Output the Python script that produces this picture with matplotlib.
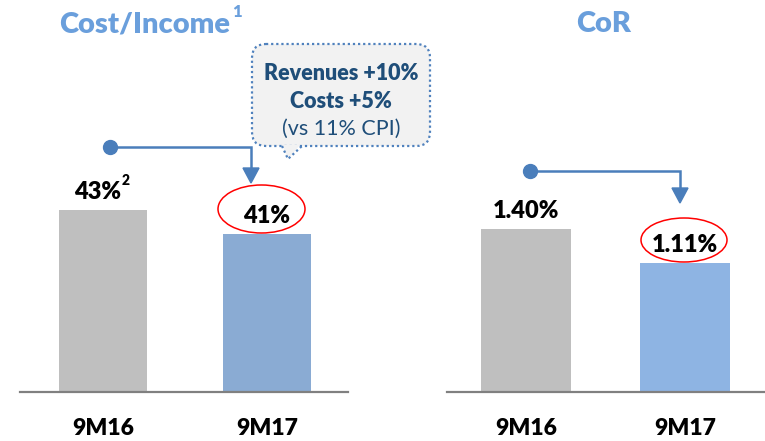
import matplotlib
matplotlib.use("Agg")
import matplotlib.pyplot as plt
from matplotlib.patches import FancyBboxPatch, Ellipse, Polygon

plt.rcParams['font.family'] = ['Lato', 'DejaVu Sans']

# данные
periods = ["9M16", "9M17"]
cost_income = [43, 41]
cost_income_labels = ["43%", "41%"]
cost_income_notes = ["2", ""]
cor = [1.40, 1.11]
cor_labels = ["1.40%", "1.11%"]
cor_notes = ["", ""]

grey = "#bfbfbf"
blue_left = "#8aabd3"
blue_right = "#8eb4e3"
title_col = "#6a9fdc"
conn_col = "#4a7ebb"
HEAVY = "heavy"

W, H = 765, 441
fig = plt.figure(figsize=(W / 100, H / 100), dpi=100)


def px_axes(x0, x1, ybot):
    return fig.add_axes([x0 / W, (H - ybot) / H, (x1 - x0) / W, ybot / H])


def bar_panel(ax, values, labels, notes, colors, xlim, ylim, width):
    x = range(len(values))
    ax.bar(x, values, width=width, color=colors, zorder=2)
    ax.set_xlim(*xlim)
    ax.set_ylim(*ylim)
    for s in ["top", "right", "left"]:
        ax.spines[s].set_visible(False)
    ax.spines["bottom"].set_color("#808080")
    ax.spines["bottom"].set_linewidth(1.6)
    ax.set_yticks([])
    ax.set_xticks([])
    ax.patch.set_alpha(0)
    for i, (v, lab, note) in enumerate(zip(values, labels, notes)):
        dx = -4 if note else 0
        ax.annotate(lab, (i, v), xytext=(dx, 13), textcoords="offset points",
                    ha="center", va="center", fontsize=17, fontweight=HEAVY,
                    color="black")
        if note:
            ax.annotate(note, (i, v), xytext=(dx + 17.5, 21), textcoords="offset points",
                        ha="left", va="center", fontsize=10, fontweight=HEAVY)
        ax.text(i, -0.092, periods[i], transform=ax.get_xaxis_transform(),
                ha="center", va="center", fontsize=16.5, fontweight=HEAVY)


# левая панель
ax1 = px_axes(20, 348, 392)
bar_panel(ax1, cost_income, cost_income_labels, cost_income_notes,
          [grey, blue_left], (-0.506, 1.494), (27.8, 60.5), 0.537)

# правая панель
ax2 = px_axes(447, 764, 392)
bar_panel(ax2, cor, cor_labels, cor_notes, [grey, blue_right],
          (-0.497, 1.497), (0, 3.37), 0.57)

# оверлей в пикселях
ov = fig.add_axes([0, 0, 1, 1])
ov.set_xlim(0, W)
ov.set_ylim(H, 0)
ov.axis("off")
ov.patch.set_alpha(0)

ov.text(145, 24, "Cost/Income", ha="center", va="center", fontsize=21,
        fontweight=HEAVY, color=title_col)
ov.text(232, 12, "1", ha="left", va="center", fontsize=12,
        fontweight=HEAVY, color=title_col)
ov.text(604, 24, "CoR", ha="center", va="center", fontsize=21,
        fontweight=HEAVY, color=title_col)

# стрелки
for (x0, y0, x1, y1) in [(110, 147, 251, 183), (530, 171, 680, 203)]:
    ov.plot([x0, x1, x1], [y0, y0, y1 - 14], color=conn_col, lw=1.8,
            solid_joinstyle="miter")
    ov.plot(x0, y0, "o", color=conn_col, ms=10)
    ov.add_patch(Polygon([(x1 - 8, y1 - 15), (x1 + 8, y1 - 15), (x1, y1)],
                         closed=True, color=conn_col))

# овалы
ov.add_patch(Ellipse((261.5, 209), 87, 48, fill=False, ec="red", lw=1.1))
ov.add_patch(Ellipse((684, 240), 86, 44, fill=False, ec="red", lw=1.1))

# выноска
box = FancyBboxPatch((252, 44), 178, 102, boxstyle="round,pad=0,rounding_size=14",
                     fc="#f2f2f2", ec="#4f81bd", lw=1.6, ls=(0, (1, 1.3)))
ov.add_patch(box)
ov.add_patch(Polygon([(282, 145), (300, 145), (288, 159)], closed=True,
                     fc="#f2f2f2", ec="none"))
ov.plot([282, 288, 302], [146, 159, 146], color="#4f81bd", lw=1.6,
        ls=(0, (1, 1.3)))
ov.text(341, 73, "Revenues +10%", ha="center", va="center", fontsize=15.5,
        fontweight=HEAVY, color="#1f4e79")
ov.text(341, 101, "Costs +5%", ha="center", va="center", fontsize=15.5,
        fontweight=HEAVY, color="#1f4e79")
ov.text(341, 129, "(vs 11% CPI)", ha="center", va="center", fontsize=15.5,
        color="#1f4e79")

fig.savefig("out.png", dpi=100)
